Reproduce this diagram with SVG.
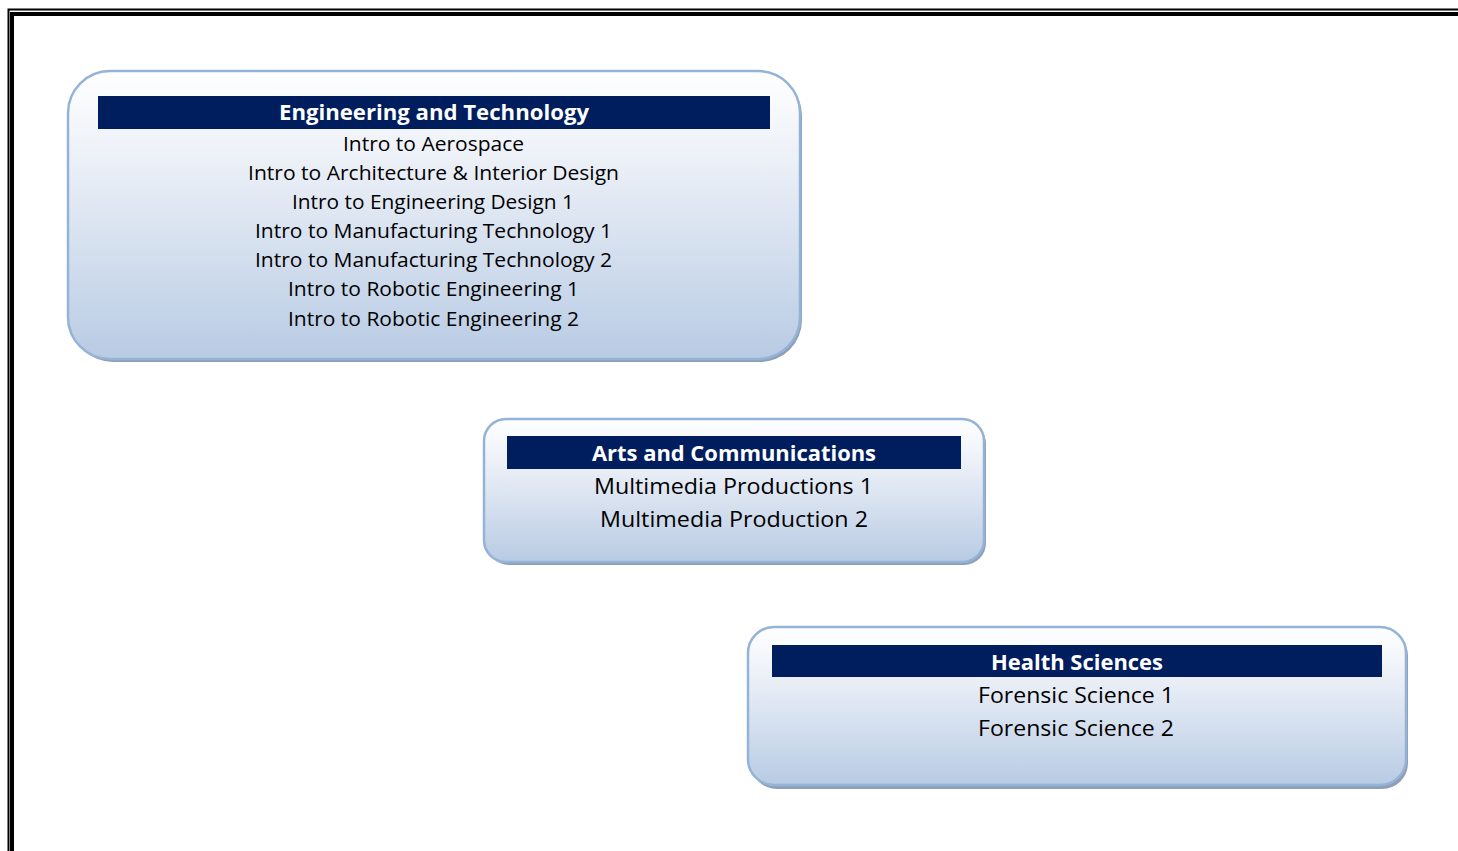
<svg xmlns="http://www.w3.org/2000/svg" width="1458" height="851" viewBox="0 0 1458 851">
<defs>
<linearGradient id="g" x1="0" y1="0" x2="0" y2="1">
<stop offset="0" stop-color="#ffffff"/>
<stop offset="0.35" stop-color="#e9eef6"/>
<stop offset="1" stop-color="#b8cbe4"/>
</linearGradient>
<style>
.box{fill:url(#g);stroke:#95b3d7;stroke-width:2.5}
.sh{fill:#8e9fb6}
.hdr{fill:#001e5e}
.ht{font-family:"Open Sans","Liberation Sans",sans-serif;font-weight:bold;fill:#ffffff;text-anchor:middle;font-size:21.5px}
.t{font-family:"Open Sans","Liberation Sans",sans-serif;fill:#000000;text-anchor:middle;font-size:20.5px}
.t2{font-family:"Open Sans","Liberation Sans",sans-serif;fill:#000000;text-anchor:middle;font-size:22.5px}
</style>
</defs>
<rect width="1458" height="851" fill="#ffffff"/>
<g id="frame">
<path d="M8.5 851 V9.5 H1458" fill="none" stroke="#000" stroke-width="2"/>
<path d="M12 851 V14 H1458" fill="none" stroke="#000" stroke-width="4"/>
</g>
<g id="engineering">
<rect class="sh" x="71" y="74" width="731" height="288" rx="42"/>
<rect class="box" x="68" y="71" width="732" height="288" rx="42"/>
<rect class="hdr" x="98" y="96" width="672" height="33"/>
<text class="ht" x="434" y="120" textLength="310" lengthAdjust="spacingAndGlyphs">Engineering and Technology</text>
<text class="t" x="433.5" y="151" textLength="181" lengthAdjust="spacingAndGlyphs">Intro to Aerospace</text>
<text class="t" x="433.5" y="180" textLength="371" lengthAdjust="spacingAndGlyphs">Intro to Architecture &amp; Interior Design</text>
<text class="t" x="433" y="209" textLength="282" lengthAdjust="spacingAndGlyphs">Intro to Engineering Design 1</text>
<text class="t" x="433.5" y="238" textLength="357" lengthAdjust="spacingAndGlyphs">Intro to Manufacturing Technology 1</text>
<text class="t" x="433.5" y="267" textLength="357" lengthAdjust="spacingAndGlyphs">Intro to Manufacturing Technology 2</text>
<text class="t" x="433.5" y="296" textLength="291" lengthAdjust="spacingAndGlyphs">Intro to Robotic Engineering 1</text>
<text class="t" x="433.5" y="326" textLength="291" lengthAdjust="spacingAndGlyphs">Intro to Robotic Engineering 2</text>
</g>
<g id="arts">
<rect class="sh" x="487" y="422" width="499" height="143" rx="22"/>
<rect class="box" x="484" y="419" width="500" height="143" rx="22"/>
<rect class="hdr" x="507" y="436" width="454" height="33"/>
<text class="ht" x="734" y="461" textLength="284" lengthAdjust="spacingAndGlyphs">Arts and Communications</text>
<text class="t2" x="733.5" y="494" textLength="279" lengthAdjust="spacingAndGlyphs">Multimedia Productions 1</text>
<text class="t2" x="734" y="527" textLength="268" lengthAdjust="spacingAndGlyphs">Multimedia Production 2</text>
</g>
<g id="health">
<rect class="sh" x="751" y="630" width="657" height="159" rx="26"/>
<rect class="box" x="748" y="627" width="658" height="158" rx="26"/>
<rect class="hdr" x="772" y="645" width="610" height="32"/>
<text class="ht" x="1077" y="670" textLength="172" lengthAdjust="spacingAndGlyphs">Health Sciences</text>
<text class="t2" x="1076" y="703" textLength="196" lengthAdjust="spacingAndGlyphs">Forensic Science 1</text>
<text class="t2" x="1076" y="736" textLength="196" lengthAdjust="spacingAndGlyphs">Forensic Science 2</text>
</g>
<g id="connectors"/>
</svg>
